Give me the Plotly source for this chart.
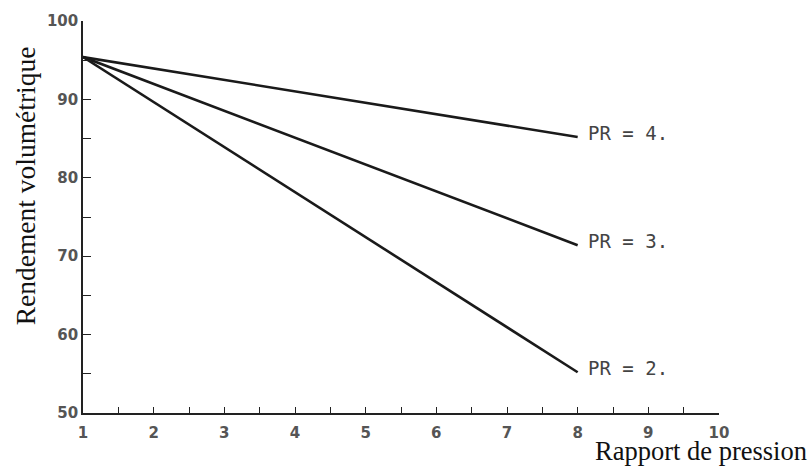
import plotly.graph_objects as go

# Data
pressure_ratio = [1, 8]
series_names = ["PR = 4.", "PR = 3.", "PR = 2."]
eff_pr4 = [95.4, 85.2]
eff_pr3 = [95.4, 71.4]
eff_pr2 = [95.4, 55.2]
x_ticks = [1, 2, 3, 4, 5, 6, 7, 8, 9, 10]
y_ticks = [50, 60, 70, 80, 90, 100]

W, H = 809, 466
L, R, T, B = 83, 90, 17, 53

fig = go.Figure()
for name, ys in zip(series_names, [eff_pr4, eff_pr3, eff_pr2]):
    fig.add_trace(go.Scatter(x=pressure_ratio, y=ys, mode="lines",
                             line=dict(color="#1a1a1a", width=2.6),
                             showlegend=False, hoverinfo="skip"))
    fig.add_annotation(x=pressure_ratio[-1], y=ys[-1], xref="x", yref="y",
                       text=name.replace(" ", "\u00a0"),
                       showarrow=False,
                       xanchor="left", yanchor="middle", xshift=8, yshift=4,
                       font=dict(family="DejaVu Sans Mono", size=19, color="#444"))

tickfont = dict(family="DejaVu Sans", size=15, color="#555", weight="bold")
fig.update_xaxes(range=[1, 10], tickvals=x_ticks, ticks="inside", ticklen=6,
                 tickwidth=1.3, tickcolor="#222", showline=True, linecolor="#222",
                 linewidth=1.6, showgrid=False, zeroline=False, tickfont=tickfont,
                 ticklabelstandoff=5,
                 minor=dict(dtick=0.5, ticks="inside", ticklen=6, tickwidth=1.3,
                            tickcolor="#222", showgrid=False))
fig.update_yaxes(range=[50, 100], tickvals=y_ticks, ticks="inside", ticklen=8,
                 tickwidth=1.3, tickcolor="#222", showline=True, linecolor="#222",
                 linewidth=1.6, showgrid=False, zeroline=False, tickfont=tickfont,
                 minor=dict(dtick=5, ticks="inside", ticklen=8, tickwidth=1.3,
                            tickcolor="#222", showgrid=False))

pw, ph = W - L - R, H - T - B
fig.add_annotation(text="Rendement volumétrique", xref="paper", yref="paper",
                   x=(25 - L) / pw, y=(H - B - 184) / ph, showarrow=False,
                   textangle=-90, xanchor="center", yanchor="middle",
                   font=dict(family="Liberation Serif", size=27.5, color="#111"))
fig.add_annotation(text="Rapport de pression", xref="paper", yref="paper",
                   x=(701 - L) / pw, y=(H - B - 451) / ph, showarrow=False,
                   xanchor="center", yanchor="middle", borderpad=0,
                   font=dict(family="Liberation Serif", size=26.5, color="#111"))

fig.update_layout(width=W, height=H, margin=dict(l=L, r=R, t=T, b=B),
                  paper_bgcolor="white", plot_bgcolor="white")
fig.write_html("out.html", config={"displayModeBar": False},
               post_script="document.body.style.margin='0';")
